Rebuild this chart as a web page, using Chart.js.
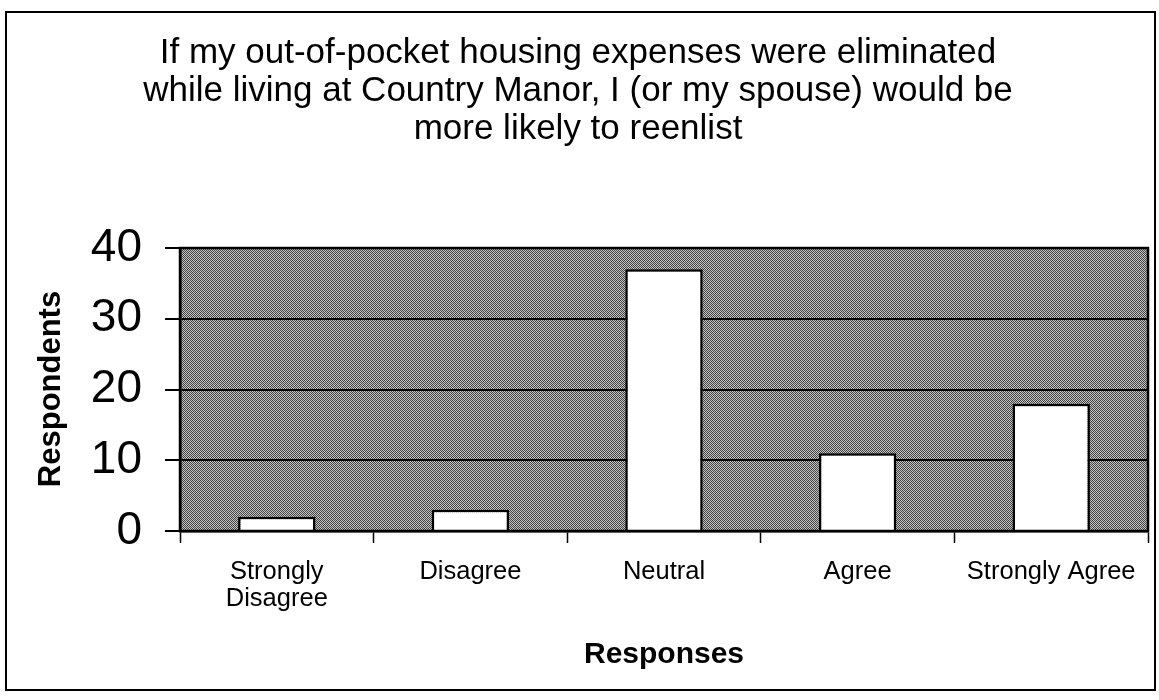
<!DOCTYPE html>
<html>
<head>
<meta charset="utf-8">
<script src="https://cdn.jsdelivr.net/npm/chart.js@4.4.0/dist/chart.umd.min.js"></script>
<style>
  html, body { margin: 0; padding: 0; background: #ffffff; overflow: hidden; }
  #wrap { position: relative; width: 1159px; height: 700px; overflow: hidden; }
  canvas { display: block; }
</style>
</head>
<body>
<div id="wrap"><canvas id="c" width="1159" height="700"></canvas></div>
<script>
const titleLines = [
  "If my out-of-pocket housing expenses were eliminated",
  "while living at Country Manor, I (or my spouse) would be",
  "more likely to reenlist"
];
const categories = [["Strongly", "Disagree"], "Disagree", "Neutral", "Agree", "Strongly Agree"];
const respondents = [2, 3, 37, 11, 18];
const yTickValues = [0, 10, 20, 30, 40];
const xTitle = "Responses";
const yTitle = "Respondents";

const FONT = "'Liberation Sans', Arial, Helvetica, sans-serif";

function makePattern(ctx) {
  const p = document.createElement('canvas');
  p.width = 4; p.height = 4;
  const pc = p.getContext('2d');
  const cols = [
    ['#3c3c3c', '#c8c8c8', '#505050', '#bcbcbc'],
    ['#c0c0c0', '#464646', '#d0d0d0', '#383838'],
    ['#4c4c4c', '#bebebe', '#404040', '#c6c6c6'],
    ['#cccccc', '#444444', '#b8b8b8', '#4a4a4a']
  ];
  for (let y = 0; y < 4; y++) for (let x = 0; x < 4; x++) {
    pc.fillStyle = cols[y][x]; pc.fillRect(x, y, 1, 1);
  }
  return ctx.createPattern(p, 'repeat');
}

const decor = {
  id: 'decor',
  beforeDraw(chart) {
    const { ctx, chartArea: a } = chart;
    ctx.save();
    ctx.fillStyle = '#ffffff';
    ctx.fillRect(0, 0, chart.width, chart.height);
    ctx.strokeStyle = '#000';
    ctx.lineWidth = 2;
    ctx.strokeRect(6, 12, 1149, 678);
    ctx.fillStyle = makePattern(ctx);
    ctx.fillRect(a.left, a.top, a.right - a.left, a.bottom - a.top);
    ctx.restore();
  },
  afterDatasetsDraw(chart) {
    const { ctx, chartArea: a } = chart;
    ctx.save();
    ctx.strokeStyle = '#000';
    ctx.lineWidth = 2.5;
    ctx.strokeRect(a.left, a.top, a.right - a.left, a.bottom - a.top);
    ctx.restore();
  },
  afterDraw(chart) {
    // y-axis title drawn as real canvas text
    const { ctx } = chart;
    ctx.save();
    ctx.translate(51, 389);
    ctx.rotate(-Math.PI / 2);
    ctx.fillStyle = '#000';
    ctx.font = "bold 31px " + FONT;
    ctx.textAlign = 'center';
    ctx.textBaseline = 'middle';
    ctx.fillText(yTitle, 0, 0);
    ctx.restore();
  }
};

new Chart(document.getElementById('c'), {
  type: 'bar',
  data: {
    labels: categories,
    datasets: [{
      data: respondents,
      backgroundColor: '#ffffff',
      borderColor: '#000000',
      borderWidth: 2.5,
      barPercentage: 0.4,
      categoryPercentage: 1.0
    }]
  },
  plugins: [decor],
  options: {
    responsive: false,
    animation: false,
    devicePixelRatio: 1,
    layout: { padding: { left: 8, right: 11, top: 13, bottom: 10 } },
    plugins: {
      legend: { display: false },
      tooltip: { enabled: false },
      title: {
        display: true,
        text: titleLines,
        color: '#000',
        font: { family: FONT, size: 35, weight: 'normal', lineHeight: 1.086 },
        padding: { top: 21, bottom: 100 }
      }
    },
    scales: {
      x: {
        offset: true,
        grid: { display: true, drawOnChartArea: false, drawTicks: true, tickLength: 12, tickColor: '#000', tickWidth: 1.5, offset: true },
        border: { display: true, color: '#000', width: 2.5 },
        ticks: {
          color: '#000', padding: 15, maxRotation: 0, autoSkip: false,
          font: { family: FONT, size: 25.5, lineHeight: 1.08 }
        },
        title: {
          display: true, text: xTitle, color: '#000',
          font: { family: FONT, size: 30, weight: 'bold', lineHeight: 1.2 },
          padding: { top: 0, bottom: 17 }
        },
        afterFit(scale) { scale.height = 159; }
      },
      y: {
        min: 0, max: 40,
        afterBuildTicks(scale) { scale.ticks = yTickValues.map(v => ({ value: v })); },
        grid: { color: '#000', lineWidth: 2, drawTicks: true, tickLength: 15, tickColor: '#000', tickWidth: 2 },
        border: { display: true, color: '#000', width: 2.5 },
        ticks: {
          color: '#000', padding: 23,
          font: { family: FONT, size: 46, lineHeight: 1.0 }
        },
        title: { display: false },
        afterFit(scale) { scale.width = 172; }
      }
    }
  }
});
</script>
</body>
</html>
